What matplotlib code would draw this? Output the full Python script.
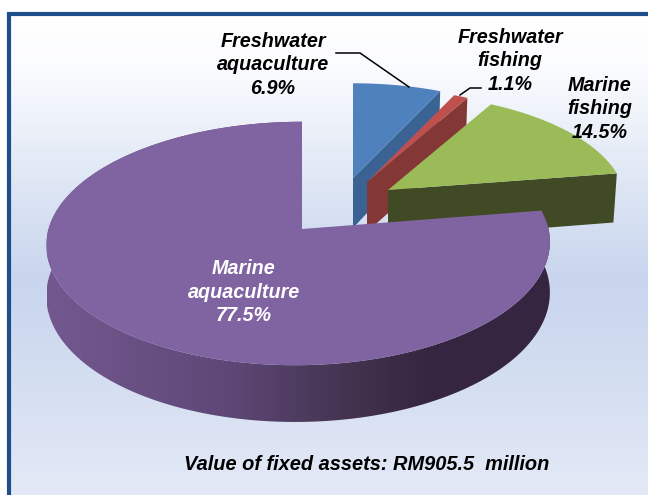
#!/usr/bin/env python3

import numpy as np
import matplotlib
matplotlib.use('Agg')
import matplotlib.pyplot as plt
from matplotlib.colors import LinearSegmentedColormap
from matplotlib.patches import Polygon

# Values, clockwise from 12 o'clock
categories = ['Freshwater\naquaculture', 'Freshwater\nfishing', 'Marine\nfishing', 'Marine\naquaculture']
shares = [6.9, 1.1, 14.5, 77.5]
caption = 'Value of fixed assets: RM905.5  million'

top_colors = ['#4F81BD', '#C0504D', '#9BBB59', '#8064A2']
wall_colors = ['#3A6292', '#843835', '#404A24', '#6E5389']
apexes = [(353, 178), (367, 182), (388, 190), (302, 229)]
x_radii = [230, 230, 236, 250]
y_radii = [106, 106, 108, 120]
skews = [0, 0, 0, 3.5]
label_pos = [(273, 65), (510, 61), (600, 109), (244, 292)]
label_colors = ['black', 'black', 'black', 'white']

TILT = 0.119
DEPTH = 50
FRAME = '#1F4E8C'

plt.rcParams['font.family'] = ['Liberation Sans', 'DejaVu Sans']

fig = plt.figure(figsize=(6.48, 4.95), dpi=100)
ax = fig.add_axes([0, 0, 1, 1])
ax.set_xlim(0, 648)
ax.set_ylim(495, 0)
ax.axis('off')

# panel background, vertical gradient
bg = LinearSegmentedColormap.from_list('bg', [(0, '#FFFFFF'), (0.1, '#FBFCFE'), (0.55, '#C8D5ED'), (1, '#E3E9F6')])
ax.imshow(np.linspace(0, 1, 256).reshape(-1, 1), cmap=bg, extent=[9, 648, 495, 14], aspect='auto', zorder=0)
ax.plot([9, 9, 648], [495, 13.5, 13.5], color=FRAME, lw=3, solid_joinstyle='miter', zorder=1)


def project(theta, apex, rx, ry, skew):
    # perspective view of a unit circle lying flat, theta clockwise from the back
    u, v = np.sin(theta), np.cos(theta)
    w = 1 + TILT * v
    return apex[0] + rx * u / w - skew * (1 - v), apex[1] - ry * v / w, DEPTH / w


cum = np.cumsum([0] + shares) / 100 * 2 * np.pi

for i in range(len(shares)):
    start, end = cum[i], cum[i + 1]
    theta = np.linspace(start, end, 200)
    x, y, d = project(theta, apexes[i], x_radii[i], y_radii[i], skews[i])
    z = 2 + i * 3
    if i < 3:
        # flat wall on the clockwise cut of the slice, lower edge pulled in a little
        x_low = apexes[i][0] + (x[-1] - apexes[i][0]) * 0.985
        wall = [apexes[i], (x[-1], y[-1]), (x_low, y[-1] + d[-1]), (apexes[i][0], apexes[i][1] + DEPTH)]
        ax.add_patch(Polygon(wall, closed=True, fc=wall_colors[i], ec='none', zorder=z))
    else:
        # curved rim, shaded left to right
        rim = Polygon(np.r_[np.c_[x, y], np.c_[x, y + d][::-1]], closed=True, fc='none', ec='none', zorder=z)
        ax.add_patch(rim)
        shade = LinearSegmentedColormap.from_list('rim', [(0, '#73588F'), (0.35, '#5F4878'), (0.6, '#43334F'),
                                                          (0.75, '#362640'), (1, '#352540')])
        im = ax.imshow(np.linspace(0, 1, 256).reshape(1, -1), cmap=shade, extent=[47, 552, 495, 0],
                       aspect='auto', zorder=z)
        im.set_clip_path(rim)
    face = np.r_[[apexes[i]], np.c_[x, y]]
    ax.add_patch(Polygon(face, closed=True, fc=top_colors[i], ec='none', zorder=z + 1))

ax.set_xlim(0, 648)
ax.set_ylim(495, 0)

# leader lines
ax.plot([336, 360, 409], [53, 53, 87], color='black', lw=1.1, zorder=20)
ax.plot([460, 470, 481], [95, 88, 88], color='black', lw=1.1, zorder=20)

for name, share, pos, col in zip(categories, shares, label_pos, label_colors):
    ax.text(pos[0], pos[1], f'{name}\n{share}%', color=col, fontsize=14.2, fontweight='bold', fontstyle='italic',
            ha='center', va='center', linespacing=1.3, zorder=21)

ax.text(367, 464, caption, fontsize=14.4, fontweight='bold', fontstyle='italic', ha='center', va='center', zorder=21)

fig.savefig('out.png', dpi=100)
